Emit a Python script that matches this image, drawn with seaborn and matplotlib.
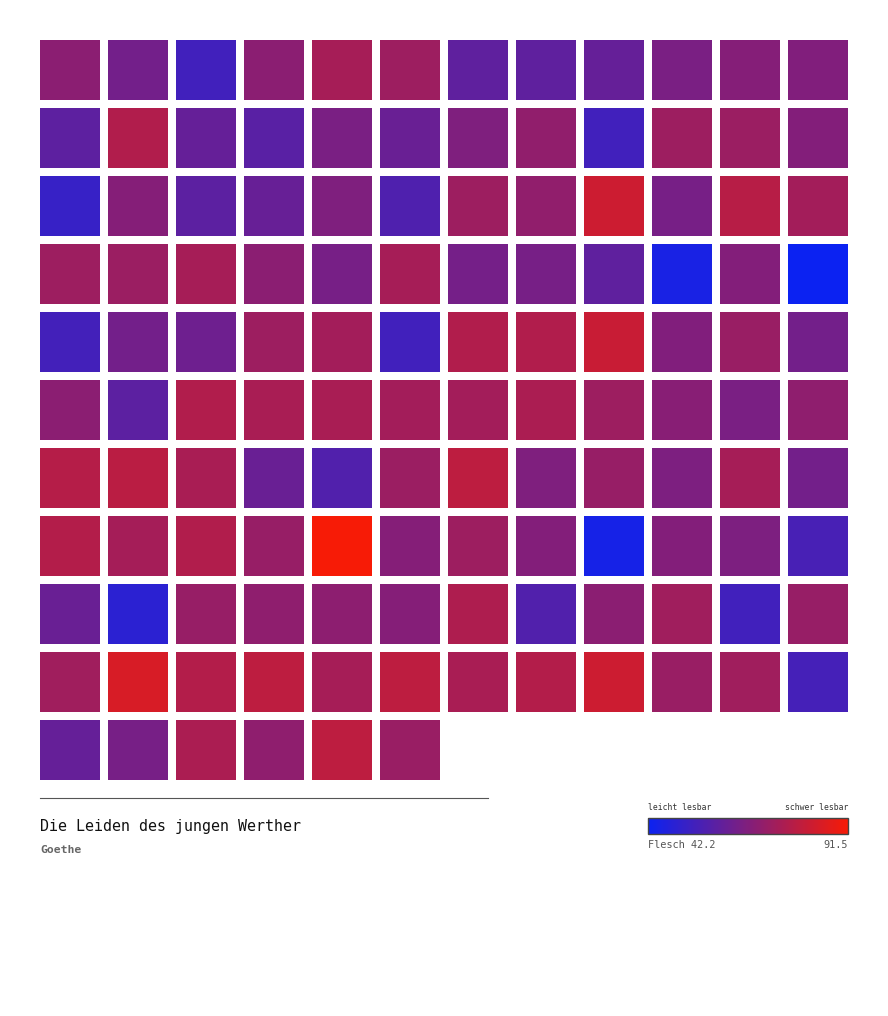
import numpy as np
import pandas as pd
import matplotlib
matplotlib.use("Agg")
import matplotlib.pyplot as plt
from matplotlib.colors import LinearSegmentedColormap
import seaborn as sns

# Flesch scores per chapter section, read row by row (12 per row)
rows = [
    [68.8, 63.9, 53.5, 68.8, 74.7, 72.8, 59.9, 59.9, 60.9, 65.4, 67.8, 66.9],
    [59.5, 76.7, 60.9, 58.5, 65.4, 61.9, 66.4, 70.3, 53.5, 72.8, 72.3, 67.3],
    [51.6, 67.8, 59.0, 61.4, 66.4, 56.5, 72.8, 70.3, 82.6, 64.9, 78.2, 73.8],
    [72.8, 72.3, 74.7, 68.8, 64.9, 74.7, 64.4, 64.9, 59.9, 45.2, 67.3, 42.2],
    [54.0, 63.9, 62.9, 72.8, 73.8, 53.5, 76.7, 76.7, 81.6, 66.9, 71.8, 63.9],
    [68.8, 59.0, 76.7, 75.2, 75.2, 73.8, 73.8, 75.7, 72.8, 68.3, 65.4, 69.8],
    [77.7, 78.7, 75.2, 61.9, 57.0, 72.3, 79.2, 66.4, 71.3, 65.9, 74.7, 63.9],
    [77.2, 74.2, 76.7, 71.3, 91.5, 67.8, 72.8, 67.3, 44.7, 67.3, 65.9, 55.0],
    [61.9, 49.1, 71.3, 69.8, 69.3, 67.8, 76.2, 57.0, 68.8, 73.3, 53.5, 71.3],
    [73.3, 84.6, 77.2, 79.2, 74.7, 79.2, 75.2, 77.2, 82.6, 71.8, 73.3, 54.5],
    [60.9, 64.9, 75.7, 69.8, 79.2, 71.8],
]
title = "Die Leiden des jungen Werther"
author = "Goethe"
vmin_label, vmax_label = 42.2, 91.5

ncols = 12
grid = np.full((len(rows), ncols), np.nan)
for i, r in enumerate(rows):
    grid[i, :len(r)] = r
df = pd.DataFrame(grid)

cmap = LinearSegmentedColormap.from_list("bluered", ["#0b22f2", "#f71b06"])

W, H = 888, 1016
fig = plt.figure(figsize=(W / 100, H / 100), dpi=100)

def px_axes(x0, y0, x1, y1):
    return fig.add_axes([x0 / W, 1 - y1 / H, (x1 - x0) / W, (y1 - y0) / H])

ax = px_axes(36, 36, 852, 784)
cax = px_axes(648, 818, 848, 834)

sns.heatmap(df, ax=ax, cmap=cmap, vmin=vmin_label, vmax=vmax_label,
            linewidths=5.76, linecolor="white", square=False,
            cbar=True, cbar_ax=cax, cbar_kws={"orientation": "horizontal"},
            xticklabels=False, yticklabels=False)
ax.set_xlabel("")
ax.set_ylabel("")
for s in ax.spines.values():
    s.set_visible(False)

cax.set_xticks([])
cax.set_yticks([])
cb = ax.collections[0].colorbar
cb.outline.set_edgecolor("#444444")
cb.outline.set_linewidth(1.0)

mono = "DejaVu Sans Mono"
# separator line
fig.add_artist(plt.Line2D([40 / W, 488 / W], [1 - 798 / H, 1 - 798 / H],
                          color="#555555", linewidth=0.8))
fig.text(40 / W, 1 - 826 / H, title, family=mono, fontsize=10.8,
         color="#111111", va="center", ha="left")
fig.text(40 / W, 1 - 850 / H, author, family=mono, fontsize=8.2,
         fontweight="bold", color="#666666", va="center", ha="left")
fig.text(648 / W, 1 - 808 / H, "leicht lesbar", family=mono, fontsize=5.9,
         color="#333333", va="center", ha="left")
fig.text(848 / W, 1 - 808 / H, "schwer lesbar", family=mono, fontsize=5.9,
         color="#333333", va="center", ha="right")
fig.text(648 / W, 1 - 845 / H, f"Flesch {vmin_label}", family=mono, fontsize=7.4,
         color="#555555", va="center", ha="left")
fig.text(848 / W, 1 - 845 / H, f"{vmax_label}", family=mono, fontsize=7.4,
         color="#555555", va="center", ha="right")

fig.savefig("out.png", dpi=100, facecolor="white")
